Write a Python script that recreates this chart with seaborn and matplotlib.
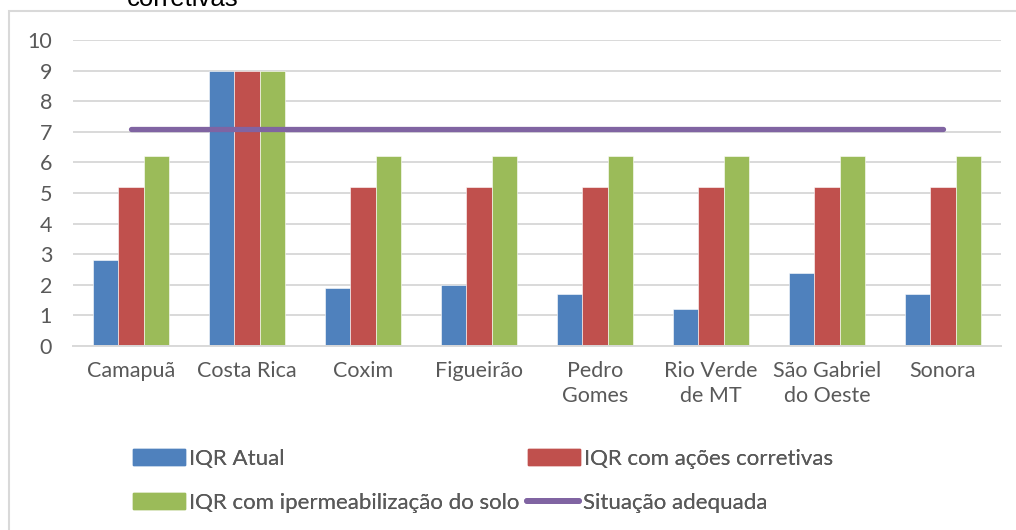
import numpy as np
import pandas as pd
import matplotlib
matplotlib.use("Agg")
import matplotlib.pyplot as plt
import matplotlib.patches as mpatches
import matplotlib.lines as mlines
import seaborn as sns

categories = ["Camapuã", "Costa Rica", "Coxim", "Figueirão", "Pedro\nGomes",
              "Rio Verde\nde MT", "São Gabriel\ndo Oeste", "Sonora"]
iqr_atual = [2.8, 9.0, 1.9, 2.0, 1.7, 1.2, 2.4, 1.7]
iqr_acoes = [5.2, 9.0, 5.2, 5.2, 5.2, 5.2, 5.2, 5.2]
iqr_iperm = [6.2, 9.0, 6.2, 6.2, 6.2, 6.2, 6.2, 6.2]
situacao = [7.1, 7.1, 7.1, 7.1, 7.1, 7.1, 7.1, 7.1]
series_names = ["IQR Atual", "IQR com ações corretivas", "IQR com ipermeabilização do solo"]
line_name = "Situação adequada"
yticks = [0, 1, 2, 3, 4, 5, 6, 7, 8, 9, 10]

colors = ["#4F81BD", "#C0504D", "#9BBB59"]
line_color = "#8064A2"
text_color = "#595959"
grid_color = "#D9D9D9"

sns.set_theme(style="white")
plt.rcParams["font.family"] = ["Lato", "DejaVu Sans"]

df = pd.DataFrame({
    "cat": categories * 3,
    "val": iqr_atual + iqr_acoes + iqr_iperm,
    "serie": [series_names[0]] * 8 + [series_names[1]] * 8 + [series_names[2]] * 8,
})

W, H = 1016, 530
fig = plt.figure(figsize=(W / 100, H / 100), dpi=100)
ax = fig.add_axes([73 / W, 1 - 346 / H, (1001 - 73) / W, (346 - 40) / H])

sns.barplot(data=df, x="cat", y="val", hue="serie", palette=colors,
            width=0.66, ax=ax, legend=False, saturation=1,
            edgecolor="white", linewidth=0.4)

ln, = ax.plot(range(len(categories)), situacao, color=line_color, lw=3.8,
              solid_capstyle="round", zorder=5)

FS = 15.5
ax.set_ylim(0, 10)
ax.set_xlim(-0.5, len(categories) - 0.5)
ax.set_yticks(yticks)
ax.set_axisbelow(True)
ax.yaxis.grid(True, color=grid_color, lw=1.4)
ax.xaxis.grid(False)
for s in ["top", "right", "left"]:
    ax.spines[s].set_visible(False)
ax.spines["bottom"].set_color(grid_color)
ax.spines["bottom"].set_linewidth(1.4)
ax.set_xlabel("")
ax.set_ylabel("")
ax.tick_params(axis="y", length=0, pad=15, labelsize=FS, labelcolor=text_color)
ax.tick_params(axis="x", length=0, pad=11, labelsize=FS, labelcolor=text_color)
for t in ax.get_xticklabels():
    t.set_linespacing(1.3)

# chart frame
frame = mpatches.Rectangle((9 / W, -0.1), 1.2, 1 - 11 / H + 0.1, transform=fig.transFigure,
                           fill=False, edgecolor=grid_color, lw=1.5)
fig.add_artist(frame)

# title (cut-off second line)
fig.text(183 / W, 1 - 6 / H, "corretivas", ha="center", va="baseline",
         fontsize=18.5, color="black", family=["Liberation Sans", "DejaVu Sans"])

# legend entries
handles = [mpatches.Patch(color=c) for c in colors] + [
    mlines.Line2D([], [], color=line_color, lw=4.2, solid_capstyle="round")]
labels = series_names + [line_name]
positions = [(133, 459), (528, 459), (133, 503), (527, 503)]
for h, lab, (px, py) in zip(handles, labels, positions):
    leg = fig.legend([h], [lab], loc="center left",
                     bbox_to_anchor=(px / W, 1 - py / H), frameon=False,
                     fontsize=16, labelcolor=text_color, handlelength=2.35,
                     handleheight=0.7, handletextpad=0.15, borderpad=0,
                     borderaxespad=0)
    fig.add_artist(leg)

fig.savefig("out.png", dpi=100)
